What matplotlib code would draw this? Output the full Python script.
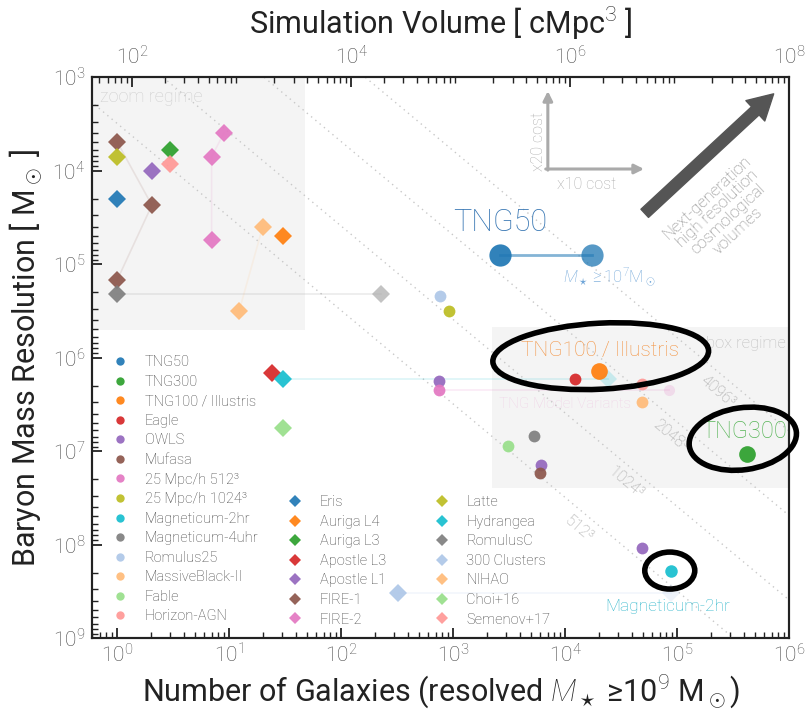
import matplotlib
matplotlib.use("Agg")
import matplotlib.pyplot as plt
import numpy as np
from matplotlib.lines import Line2D
from matplotlib.patches import Rectangle, Ellipse
from matplotlib.transforms import Affine2D, ScaledTranslation
import matplotlib.ticker as mticker

plt.rcParams['font.family'] = ['Roboto', 'DejaVu Sans']
plt.rcParams['font.weight'] = 'light'
plt.rcParams['mathtext.fontset'] = 'custom'
plt.rcParams['mathtext.rm'] = 'Roboto:light'
plt.rcParams['mathtext.it'] = 'Roboto:italic:light'
plt.rcParams['mathtext.bf'] = 'Roboto:bold'

# ---------------- data ----------------
# uniform-volume simulations (circles)
box_names = ["TNG50", "TNG300", "TNG100 / Illustris", "Eagle", "OWLS", "Mufasa",
             "25 Mpc/h 512³", "25 Mpc/h 1024³", "Magneticum-2hr",
             "Magneticum-4uhr", "Romulus25", "MassiveBlack-II", "Fable", "Horizon-AGN"]
box_colors = ["#1f77b4", "#2ca02c", "#ff7f0e", "#d62728", "#9467bd", "#8c564b",
              "#e377c2", "#bcbd22", "#17becf", "#7f7f7f", "#aec7e8", "#ffbb78",
              "#98df8a", "#ff9896"]
box_ngal = [[2630], [4.2e5], [2.0e4], [1.23e4], [750, 6100, 4.9e4], [6000],
            [750], [920], [8.8e4], [5300], [760], [4.9e4], [3100], [4.9e4]]
box_mbar = [[8.0e4], [1.07e7], [1.4e6], [1.7e6], [1.8e6, 1.4e7, 1.1e8], [1.7e7],
            [2.2e6], [3.2e5], [1.9e8], [6.9e6], [2.2e5], [3.0e6], [8.9e6], [1.9e6]]

# TNG50 with lower stellar mass limit (M* >= 1e7)
tng50_low_ngal = [17400]
tng50_low_mbar = [8.0e4]
# TNG model variants (faded)
variant_ngal = [8.5e4]
variant_mbar = [2.2e6]

# zoom simulations (diamonds)
zoom_names = ["Eris", "Auriga L4", "Auriga L3", "Apostle L3", "Apostle L1", "FIRE-1",
              "FIRE-2", "Latte", "Hydrangea", "RomulusC", "300 Clusters", "NIHAO",
              "Choi+16", "Semenov+17"]
zoom_colors = ["#1f77b4", "#ff7f0e", "#2ca02c", "#d62728", "#9467bd", "#8c564b",
               "#e377c2", "#bcbd22", "#17becf", "#7f7f7f", "#aec7e8", "#ffbb78",
               "#98df8a", "#ff9896"]
zoom_ngal = [[1], [30.4], [3.0], [24], [2.05], [1, 2.05, 1], [9.0, 7.0, 7.0], [1],
             [30.4], [1], [323], [20, 12.3], [30.4], [3.0]]
zoom_mbar = [[2.0e4], [5.0e4], [6.0e3], [1.45e6], [1.0e4], [4.9e3, 2.35e4, 1.5e5],
             [4.0e3, 7.1e3, 5.5e4], [7.1e3], [1.7e6], [2.1e5], [3.3e8],
             [4.0e4, 3.2e5], [5.7e6], [8.5e3]]
# faded counterparts
zoom_far_names = ["Hydrangea", "RomulusC", "300 Clusters"]
zoom_far_ngal = [2.4e4, 228, 8.8e4]
zoom_far_mbar = [1.7e6, 2.1e5, 3.3e8]

# constant-particle-number lines
npart_1d = [512, 1024, 2048, 4096]
npart_label_ngal = [1.6e4, 4.2e4, 1.05e5, 2.8e5]
mass_const = 4.2e11

xticks_bottom = [1e0, 1e1, 1e2, 1e3, 1e4, 1e5, 1e6]
yticks = [1e3, 1e4, 1e5, 1e6, 1e7, 1e8, 1e9]
xticks_top = [1e2, 1e4, 1e6, 1e8]

# ---------------- figure ----------------
W, H = 808, 711
fig = plt.figure(figsize=(W / 100, H / 100), dpi=100)
L, R, T, B = 92, 789, 77, 638
ax = fig.add_axes([L / W, 1 - B / H, (R - L) / W, (B - T) / H])
ax.set_xscale('log')
ax.set_yscale('log')
ax.set_xlim(10 ** -0.223, 1e6)
ax.set_ylim(1e9, 1e3)

# shaded regimes
ax.add_patch(Rectangle((10 ** -0.223, 1e3), 48 - 10 ** -0.223, 5.1e5 - 1e3,
                       facecolor="#f4f4f4", edgecolor='none', zorder=0))
ax.add_patch(Rectangle((2230, 4.7e5), 1e6 - 2230, 2.5e7 - 4.7e5,
                       facecolor="#f4f4f4", edgecolor='none', zorder=0))
ax.text(0.012, 0.965, "zoom regime", transform=ax.transAxes, fontsize=13,
        color="#cfcfcf", ha='left', va='center', zorder=1)
ax.text(0.995, 0.525, "box regime", transform=ax.transAxes, fontsize=12,
        color="#bdbdbd", ha='right', va='center', zorder=1)

# dotted lines of constant particle number
nn = np.logspace(-1, 7, 200)
for n1d, nl in zip(npart_1d, npart_label_ngal):
    ax.plot(nn, mass_const * nn / n1d ** 3, ls=(0, (1, 3)), color="#c8c8c8",
            lw=1.0, zorder=1)
    ax.annotate(f"{n1d}³", xy=(nl, mass_const * nl / n1d ** 3),
                xytext=(-9, -12), textcoords='offset pixels', rotation=-40,
                rotation_mode='anchor', ha='center', va='center',
                fontsize=11.5, color="#a5a5a5", zorder=2)

# connecting lines (faint)
ax.plot([box_ngal[0][0], tng50_low_ngal[0]], [box_mbar[0][0], tng50_low_mbar[0]],
        color="#1f77b4", alpha=0.55, lw=2, zorder=3)
ax.plot([box_ngal[6][0], variant_ngal[0]], [box_mbar[6][0], variant_mbar[0]],
        color="#e377c2", alpha=0.15, lw=1.2, zorder=2)
for nm, nf, mf in zip(zoom_far_names, zoom_far_ngal, zoom_far_mbar):
    i = zoom_names.index(nm)
    ax.plot([zoom_ngal[i][0], nf], [zoom_mbar[i][0], mf], color=zoom_colors[i],
            alpha=0.15, lw=1.2, zorder=2)
for nm in ["FIRE-1", "FIRE-2", "NIHAO"]:
    i = zoom_names.index(nm)
    ax.plot(zoom_ngal[i], zoom_mbar[i], color=zoom_colors[i], alpha=0.12,
            lw=1.2, zorder=2)

# faded points
ax.plot(tng50_low_ngal, tng50_low_mbar, 'o', color="#1f77b4", alpha=0.75, ms=16,
        mew=0, zorder=4)
ax.plot(variant_ngal, variant_mbar, 'o', color="#e377c2", alpha=0.2, ms=8,
        mew=0, zorder=3)
for nm, nf, mf in zip(zoom_far_names, zoom_far_ngal, zoom_far_mbar):
    i = zoom_names.index(nm)
    a = 0.7 if nm == "RomulusC" else 0.2
    c = "#aaaaaa" if nm == "RomulusC" else zoom_colors[i]
    ax.plot([nf], [mf], 'D', color=c, alpha=a, ms=9, mew=0, zorder=3)

# main points
box_ms = {"TNG50": 16, "TNG300": 12, "TNG100 / Illustris": 12, "Magneticum-2hr": 9}
for nm, c, xs, ys in zip(box_names, box_colors, box_ngal, box_mbar):
    ax.plot(xs, ys, 'o', color=c, ms=box_ms.get(nm, 8.5), mew=0, alpha=0.92,
            zorder=5)
for nm, c, xs, ys in zip(zoom_names, zoom_colors, zoom_ngal, zoom_mbar):
    ax.plot(xs, ys, 'D', color=c, ms=9.5, mew=0, alpha=0.92, zorder=5)

# labels for highlighted simulations
ax.annotate("TNG50", xy=(box_ngal[0][0], box_mbar[0][0]), xytext=(0, 32),
            textcoords='offset pixels', ha='center', va='center', fontsize=22,
            color="#3776b3", zorder=6)
ax.annotate(r"$M_\star \geq 10^7 \mathrm{M}_\odot$",
            xy=(tng50_low_ngal[0], tng50_low_mbar[0]), xytext=(17, -22),
            textcoords='offset pixels', ha='center', va='center', fontsize=12,
            color="#6fa5d8", zorder=6)
ax.annotate("TNG100 / Illustris", xy=(box_ngal[2][0], box_mbar[2][0]),
            xytext=(1, 21), textcoords='offset pixels', ha='center', va='center',
            fontsize=15, color="#f39443", zorder=6)
ax.annotate("TNG300", xy=(box_ngal[1][0], box_mbar[1][0]), xytext=(-3, 22),
            textcoords='offset pixels', ha='center', va='center', fontsize=17,
            color="#58b558", zorder=6)
ax.annotate("Magneticum-2hr", xy=(box_ngal[8][0], box_mbar[8][0]),
            xytext=(-3, -36), textcoords='offset pixels', ha='center',
            va='center', fontsize=12.5, color="#2cb5ca", zorder=6)
ax.annotate("TNG Model Variants", xy=(box_ngal[6][0], box_mbar[6][0]),
            xytext=(126, -14), textcoords='offset pixels', ha='center',
            va='center', fontsize=11, color="#e377c2", alpha=0.25, zorder=3)


def ring(x, y, dx, dy, w, h, ang):
    tr = Affine2D().rotate_deg(ang).translate(dx, dy) + ScaledTranslation(x, y, ax.transData)
    e = Ellipse((0, 0), w, h, fill=False, lw=4, ec='black', transform=tr,
                clip_on=False, zorder=7)
    fig.add_artist(e)


ring(box_ngal[2][0], box_mbar[2][0], 2, 15, 216, 66, 3)
ring(box_ngal[1][0], box_mbar[1][0], -4, 15, 108, 62, 8)
ring(box_ngal[8][0], box_mbar[8][0], -1, 0, 50, 37, 0)

# cost arrows
ax.annotate("", xy=(0.654, 0.975), xytext=(0.654, 0.834), xycoords='axes fraction',
            arrowprops=dict(arrowstyle='-|>', color="#aaaaaa", lw=2.2,
                            mutation_scale=14, shrinkA=0, shrinkB=0))
ax.annotate("", xy=(0.792, 0.836), xytext=(0.651, 0.836), xycoords='axes fraction',
            arrowprops=dict(arrowstyle='-|>', color="#aaaaaa", lw=2.2,
                            mutation_scale=14, shrinkA=0, shrinkB=0))
ax.text(0.641, 0.885, "x20 cost", transform=ax.transAxes, rotation=90,
        ha='center', va='center', fontsize=11.5, color="#aaaaaa")
ax.text(0.709, 0.808, "x10 cost", transform=ax.transAxes, ha='center',
        va='center', fontsize=11.5, color="#aaaaaa")

# next-generation arrow
ax.annotate("", xy=(0.978, 0.97), xytext=(0.793, 0.757), xycoords='axes fraction',
            arrowprops=dict(arrowstyle='simple,head_length=0.9,head_width=1.0,tail_width=0.4',
                            color="#555555", mutation_scale=20, shrinkA=0, shrinkB=0))
ax.text(0.905, 0.756, "Next-generation\nhigh resolution\ncosmological\nvolumes",
        transform=ax.transAxes, rotation=43, ha='center', va='center',
        fontsize=12, color="#858585", linespacing=1.0, multialignment='center')

# axes styling
for s in ax.spines.values():
    s.set_linewidth(1.5)
    s.set_color("#222222")
ax.set_xticks(xticks_bottom)
ax.set_yticks(yticks)
ax.xaxis.set_minor_locator(mticker.LogLocator(base=10, subs=np.arange(2, 10), numticks=20))
ax.yaxis.set_minor_locator(mticker.LogLocator(base=10, subs=np.arange(2, 10), numticks=20))
ax.xaxis.set_minor_formatter(mticker.NullFormatter())
ax.yaxis.set_minor_formatter(mticker.NullFormatter())
ax.tick_params(which='both', direction='in', top=False, right=False,
               labelsize=15, labelcolor="#444444", color="#222222")
ax.tick_params(which='major', length=7, width=1.3)
ax.tick_params(which='minor', length=4, width=1.0)
ax.tick_params(axis='x', pad=4)
ax.tick_params(axis='y', pad=5)
ax.set_xlabel(r"Number of Galaxies (resolved $M_\star$ ≥10$^9$ M$_\odot$)",
              fontsize=22, color="#222222", labelpad=4)
ax.set_ylabel(r"Baryon Mass Resolution [ M$_\odot$ ]", fontsize=22,
              color="#222222", labelpad=6)

ax2 = ax.twiny()
ax2.set_xscale('log')
ax2.set_xlim(10 ** 1.635, 1e8)
ax2.set_xticks(xticks_top)
ax2.xaxis.set_minor_locator(mticker.LogLocator(base=10, subs=np.arange(2, 10), numticks=20))
ax2.xaxis.set_minor_formatter(mticker.NullFormatter())
ax2.tick_params(which='both', direction='in', top=True, bottom=False,
                labelsize=15, labelcolor="#444444", color="#222222", pad=6)
ax2.tick_params(which='major', length=7, width=1.3)
ax2.tick_params(which='minor', length=4, width=1.0)
ax2.set_xlabel("Simulation Volume [ cMpc$^3$ ]", fontsize=22, color="#222222",
               labelpad=8)
for s in ax2.spines.values():
    s.set_linewidth(1.5)
    s.set_color("#222222")

# legends
h1 = [Line2D([], [], marker='o', ls='', color=c, ms=6, mew=0, alpha=0.92)
      for c in box_colors]
leg1 = fig.legend(h1, box_names, loc='upper left',
                  bbox_to_anchor=(104 / W, 1 - 348 / H), frameon=False,
                  fontsize=10.5, labelspacing=0.38, handlelength=1.2,
                  handletextpad=1.1, borderpad=0, labelcolor="#444444")
h2 = [Line2D([], [], marker='D', ls='', color=c, ms=6.5, mew=0, alpha=0.92)
      for c in zoom_colors]
leg2 = fig.legend(h2, zoom_names, loc='upper left', ncol=2,
                  bbox_to_anchor=(279 / W, 1 - 488 / H), frameon=False,
                  fontsize=10.5, labelspacing=0.38, handlelength=1.2,
                  handletextpad=1.1, columnspacing=3.2, borderpad=0,
                  labelcolor="#444444")

fig.savefig("out.png", dpi=100)
